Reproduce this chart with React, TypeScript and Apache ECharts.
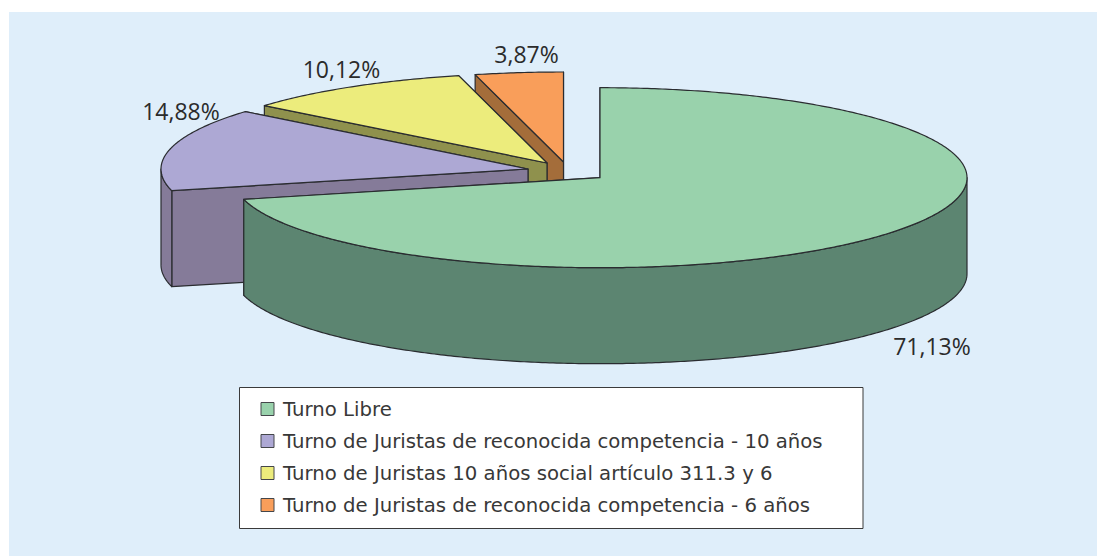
import React, { useEffect, useRef } from "react";
import * as echarts from "echarts";

const categories = [
  "Turno Libre",
  "Turno de Juristas de reconocida competencia - 10 años",
  "Turno de Juristas 10 años social artículo 311.3 y 6",
  "Turno de Juristas de reconocida competencia - 6 años",
];
const shares = [71.13, 14.88, 10.12, 3.87];

const topColors = ["#99D2AC", "#ADA8D4", "#ECEC7C", "#F99E5A"];
const sideColors = ["#5C8571", "#857B99", "#8F914D", "#A46D3A"];
const stroke = "#2A2C30";

// layout of the exploded pie: where each slice's apex sits
const apexX = [600, 528, 547, 563.5];
const apexY = [177.7, 169, 163, 162];
const rx = 367;
const ry = 90;
const depth = 96;

// label anchors
const labelX = [932, 181, 341.5, 526.5];
const labelY = [346, 111, 69, 54];

const LABEL_FONT = '"Open Sans", sans-serif';
const LEGEND_FONT = '"DejaVu Sans", sans-serif';

const total = shares.reduce((a, b) => a + b, 0);
const starts: number[] = [];
shares.reduce((acc, v, i) => {
  starts[i] = acc;
  return acc + (v / total) * Math.PI * 2;
}, 0);

function pt(i: number, ang: number, dy = 0): number[] {
  return [apexX[i] + rx * Math.sin(ang), apexY[i] - ry * Math.cos(ang) + dy];
}

function arc(i: number, a: number, b: number, dy = 0): number[][] {
  const n = Math.max(2, Math.ceil(Math.abs(b - a) / 0.01));
  const out: number[][] = [];
  for (let k = 0; k <= n; k++) out.push(pt(i, a + ((b - a) * k) / n, dy));
  return out;
}

function poly(points: number[][], fill: string) {
  return {
    type: "polygon",
    shape: { points },
    style: { fill, stroke, lineWidth: 1.2, lineJoin: "round" },
    silent: true,
  };
}

function sliceRenderer(i: number) {
  return () => {
    const a = starts[i];
    const b = a + (shares[i] / total) * Math.PI * 2;
    const side = sideColors[i];
    const apex = [apexX[i], apexY[i]];
    const apexLow = [apexX[i], apexY[i] + depth];
    const children: any[] = [];
    // cut faces: the far one first, then the near one
    children.push(poly([apex, pt(i, b), pt(i, b, depth), apexLow], side));
    children.push(poly([apex, pt(i, a), pt(i, a, depth), apexLow], side));
    // outer wall: only the part of the rim that faces the viewer
    const wa = Math.max(a, Math.PI / 2);
    const wb = Math.min(b, (Math.PI * 3) / 2);
    if (wb > wa) {
      const topEdge = arc(i, wa, wb);
      const lowEdge = arc(i, wb, wa, depth);
      children.push(poly([...topEdge, ...lowEdge], side));
    }
    // top surface
    children.push(poly([apex, ...arc(i, a, b)], topColors[i]));
    // percentage label
    children.push({
      type: "text",
      silent: true,
      style: {
        x: labelX[i],
        y: labelY[i],
        text: shares[i].toFixed(2).replace(".", ",") + "%",
        font: `23px ${LABEL_FONT}`,
        fill: "#2B2B2B",
        align: "center",
        verticalAlign: "middle",
      },
    });
    return { type: "group", children };
  };
}

export default function App() {
  const ref = useRef<HTMLDivElement>(null);
  useEffect(() => {
    const chart = echarts.init(ref.current!, undefined, { renderer: "svg" });
    chart.setOption({
      animation: false,
      backgroundColor: "#FFFFFF",
      graphic: [
        {
          type: "rect",
          z: 0,
          silent: true,
          shape: { x: 9, y: 12, width: 1088, height: 544 },
          style: { fill: "#DFEEFA" },
        },
        {
          type: "rect",
          z: 1,
          silent: true,
          shape: { x: 239.5, y: 387.5, width: 623.5, height: 141 },
          style: { fill: "#FFFFFF", stroke: "#3A3A3A", lineWidth: 1 },
        },
      ],
      legend: {
        orient: "vertical",
        left: 260.5,
        top: 399,
        padding: 0,
        itemWidth: 13,
        itemHeight: 13,
        itemGap: 12,
        selectedMode: false,
        icon: "rect",
        textStyle: {
          fontFamily: LEGEND_FONT,
          fontSize: 19.7,
          lineHeight: 13,
          color: "#383838",
          padding: [0, 0, 0, 4],
        },
        data: categories.map((name, i) => ({
          name,
          itemStyle: { color: topColors[i], borderColor: "#44464A", borderWidth: 1 },
        })),
      },
      series: categories.map((name, i) => ({
        type: "custom",
        name,
        coordinateSystem: "none",
        z: 5 - i,
        itemStyle: { color: topColors[i] },
        data: [shares[i]],
        renderItem: sliceRenderer(i),
      })),
    });
    return () => chart.dispose();
  }, []);
  return (
    <div
      ref={ref}
      style={{ position: "fixed", left: 0, top: 0, width: 1097, height: 556 }}
    />
  );
}
